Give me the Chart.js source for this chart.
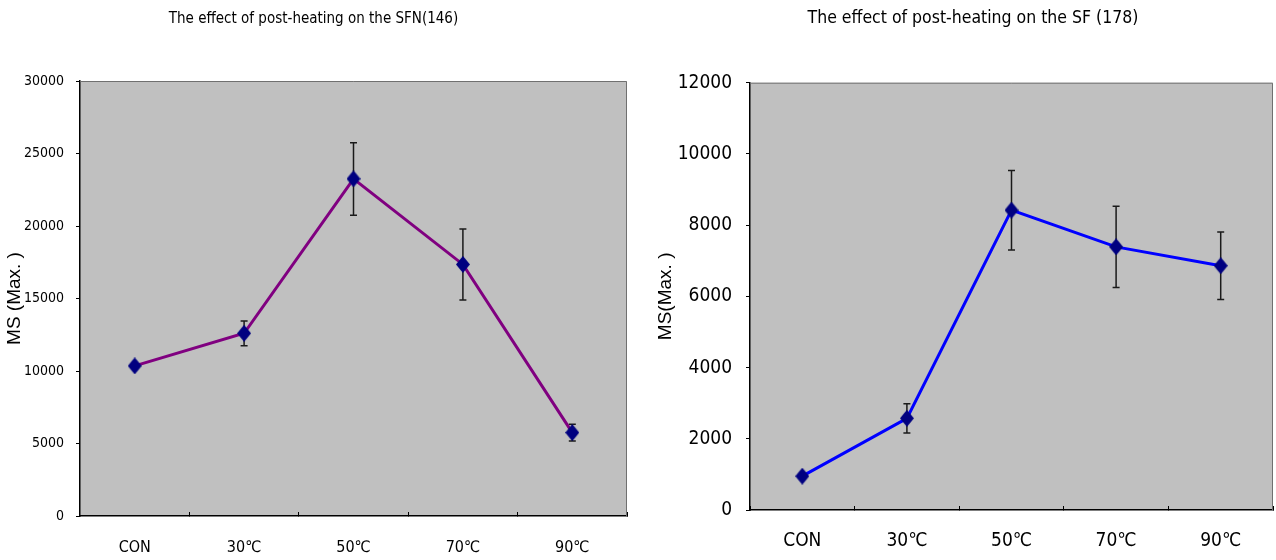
<!DOCTYPE html>
<html><head><meta charset="utf-8">
<script src="https://cdn.jsdelivr.net/npm/chart.js@4.4.0/dist/chart.umd.min.js"></script>
<style>
html,body{margin:0;padding:0;background:#fff;width:1276px;height:560px;overflow:hidden;}
canvas{position:absolute;top:0;}
#c1{left:0;} #c2{left:640px;}
</style></head><body>
<canvas id="c1" width="640" height="560"></canvas>
<canvas id="c2" width="636" height="560"></canvas>
<script>
// ---- data ----
const categories = ['CON', '30\u2103', '50\u2103', '70\u2103', '90\u2103'];
const sfnMeans  = [10350, 12600, 23250, 17350, 5750];
const sfnErrors = [0, 850, 2500, 2450, 570];
const sfMeans   = [950, 2575, 8420, 7390, 6860];
const sfErrors  = [0, 410, 1115, 1140, 950];
const sfnTicks  = { min: 0, max: 30000, step: 5000 };
const sfTicks   = { min: 0, max: 12000, step: 2000 };
const sfnTitle = 'The effect of post-heating on the SFN(146)';
const sfTitle  = 'The effect of post-heating on the SF (178)';
const sfnYTitle = 'MS (Max. )';
const sfYTitle  = 'MS(Max. )';

const NARROW = "'Liberation Sans Narrow','DejaVu Sans Condensed','Liberation Sans',sans-serif";
const SANS = "'Liberation Sans','DejaVu Sans',sans-serif";

function diamond(w, h, color) {
  const c = document.createElement('canvas');
  c.width = w; c.height = h;
  const g = c.getContext('2d');
  g.fillStyle = color;
  g.beginPath();
  g.moveTo(w / 2, 0); g.lineTo(w, h / 2); g.lineTo(w / 2, h); g.lineTo(0, h / 2);
  g.closePath(); g.fill();
  return c;
}

const plotArea = {
  id: 'plotArea',
  beforeDraw(chart) {
    const { ctx, chartArea: a } = chart;
    ctx.save();
    ctx.fillStyle = '#C0C0C0';
    ctx.fillRect(a.left, a.top, a.right - a.left, a.bottom - a.top);
    ctx.restore();
  },
  beforeDatasetsDraw(chart) {
    const { ctx, chartArea: a } = chart;
    ctx.save();
    ctx.strokeStyle = '#707070';
    ctx.lineWidth = 1;
    ctx.beginPath();
    ctx.moveTo(a.left, a.top + 0.5); ctx.lineTo(a.right - 0.5, a.top + 0.5); ctx.lineTo(a.right - 0.5, a.bottom);
    ctx.stroke();
    ctx.restore();
  }
};

const errorBars = {
  id: 'errorBars',
  beforeDatasetsDraw(chart) {
    const { ctx } = chart;
    const y = chart.scales.y;
    chart.data.datasets.forEach((ds, di) => {
      const meta = chart.getDatasetMeta(di);
      const errs = ds.errors || [];
      meta.data.forEach((pt, i) => {
        const e = errs[i];
        if (!e) return;
        const v = ds.data[i];
        const top = y.getPixelForValue(v + e), bot = y.getPixelForValue(v - e);
        ctx.save();
        ctx.strokeStyle = '#1a1a1a';
        ctx.lineWidth = 1.5;
        ctx.beginPath();
        ctx.moveTo(pt.x, top); ctx.lineTo(pt.x, bot);
        ctx.moveTo(pt.x - 3.5, top); ctx.lineTo(pt.x + 3.5, top);
        ctx.moveTo(pt.x - 3.5, bot); ctx.lineTo(pt.x + 3.5, bot);
        ctx.stroke();
        ctx.restore();
      });
    });
  }
};

function makeChart(id, o) {
  return new Chart(document.getElementById(id), {
    type: 'line',
    data: {
      labels: categories,
      datasets: [{
        data: o.means, errors: o.errors,
        borderColor: o.lineColor, borderWidth: 3,
        pointStyle: diamond(14, 17, '#000080'), pointRadius: 8,
        tension: 0, fill: false
      }]
    },
    options: {
      responsive: false, animation: false, devicePixelRatio: 1,
      layout: { autoPadding: false, padding: { left: o.padL, right: o.padR, top: 0, bottom: 0 } },
      plugins: {
        legend: { display: false }, tooltip: { enabled: false },
        title: {
          display: true, text: o.title, color: '#000',
          font: { family: NARROW, size: o.titleSize, weight: 'normal', lineHeight: 1.2 },
          padding: { top: o.titlePadT, bottom: o.titlePadB }
        }
      },
      scales: {
        x: {
          type: 'category', offset: true,
          grid: { offset: true, drawOnChartArea: false, drawTicks: true, tickLength: -4, color: '#000', lineWidth: 1 },
          border: { display: true, color: '#000', width: 1.5 },
          ticks: { color: '#000', font: { family: NARROW, size: o.xTickSize, lineHeight: 1.2 }, padding: o.xTickPad, maxRotation: 0, autoSkip: false },
          afterFit(s) { s.height = o.xHeight; s.paddingLeft = 0; s.paddingRight = 0; }
        },
        y: {
          type: 'linear', min: o.ticks.min, max: o.ticks.max,
          ticks: { stepSize: o.ticks.step, color: '#000', font: { family: NARROW, size: o.yTickSize }, padding: o.yTickPad, callback: v => String(v) },
          grid: { drawOnChartArea: false, drawTicks: true, tickLength: 4, color: '#000', lineWidth: 1 },
          border: { display: true, color: '#000', width: 1.5 },
          title: { display: true, text: o.yTitle, color: '#000', font: { family: SANS, size: 19, lineHeight: 1.2 }, padding: { top: o.yTitlePad, bottom: 0 } },
          afterFit(s) { s.width = o.yWidth; }
        }
      }
    },
    plugins: [plotArea, errorBars]
  });
}

makeChart('c1', {
  means: sfnMeans, errors: sfnErrors, lineColor: '#800080', ticks: sfnTicks,
  title: sfnTitle, yTitle: sfnYTitle,
  padL: 0, padR: 13, titleSize: 15, titlePadT: 10, titlePadB: 53,
  xTickSize: 16, xTickPad: 26.4, xHeight: 44,
  yTickSize: 14, yTickPad: 12, yWidth: 80, yTitlePad: 3.6
});
makeChart('c2', {
  means: sfMeans, errors: sfErrors, lineColor: '#0000FF', ticks: sfTicks,
  title: sfTitle, yTitle: sfYTitle,
  padL: 33, padR: 3, titleSize: 17.5, titlePadT: 8, titlePadB: 53.7,
  xTickSize: 19, xTickPad: 23.5, xHeight: 50,
  yTickSize: 19, yTickPad: 14, yWidth: 77, yTitlePad: -18.4
});
</script>
</body></html>
